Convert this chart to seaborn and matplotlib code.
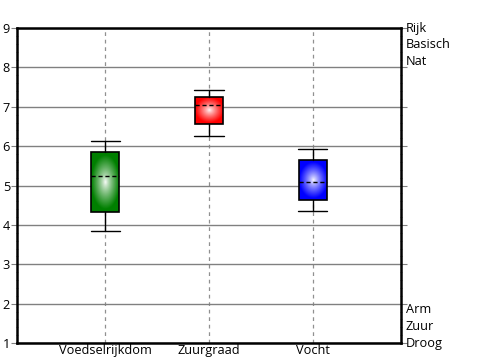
import numpy as np
import seaborn as sns
import matplotlib.pyplot as plt
from matplotlib.ticker import MultipleLocator

# box statistics
categories = ['Voedselrijkdom', 'Zuurgraad', 'Vocht']
whisker_low = [3.85, 6.26, 4.36]
q1 = [4.33, 6.56, 4.63]
mid = [5.24, 7.04, 5.08]
q3 = [5.85, 7.26, 5.64]
whisker_high = [6.13, 7.42, 5.92]
box_colors = [(0.0, 0.5, 0.0), (1.0, 0.0, 0.0), (0.0, 0.0, 1.0)]

top_labels = ['Rijk', 'Basisch', 'Nat']
bottom_labels = ['Arm', 'Zuur', 'Droog']

sns.set_style('white')
plt.rcParams['font.family'] = ['Open Sans', 'DejaVu Sans']
plt.rcParams['text.color'] = 'black'
plt.rcParams['xtick.labelcolor'] = 'black'
plt.rcParams['ytick.labelcolor'] = 'black'
fs = 9.2

fig = plt.figure(figsize=(5, 3.6), dpi=100)
ax = fig.add_axes([0.034, 0.047, 0.768, 0.875])

stats = []
for i, name in enumerate(categories):
    stats.append({'label': name, 'whislo': whisker_low[i], 'q1': q1[i],
                  'med': mid[i], 'q3': q3[i], 'whishi': whisker_high[i]})

bp = ax.bxp(stats, positions=range(len(categories)), widths=0.27,
            patch_artist=True, showfliers=False,
            boxprops=dict(edgecolor='black', linewidth=1.2),
            whiskerprops=dict(color='black', linewidth=1.0),
            capprops=dict(color='black', linewidth=1.0),
            medianprops=dict(color='black', linewidth=1.0, linestyle=(0, (3, 2))),
            capwidths=0.28)

# radial white-to-colour fill inside each box
yy, xx = np.mgrid[-1:1:120j, -1:1:60j]
r = np.clip(np.sqrt(xx ** 2 + (yy * 1.1) ** 2), 0, 1) ** 0.8
for i, patch in enumerate(bp['boxes']):
    c = np.array(box_colors[i])
    img = (1 - r)[..., None] * np.ones(3) + r[..., None] * c
    patch.set_facecolor('none')
    im = ax.imshow(img, extent=(i - 0.135, i + 0.135, q1[i], q3[i]),
                   aspect='auto', zorder=1.5, interpolation='bilinear')
    im.set_clip_path(patch)
    patch.set_zorder(2)

ax.set_xlim(-0.85, 2.85)
ax.set_ylim(1, 9)
ax.set_xticks(range(len(categories)))
ax.set_xticklabels(categories, fontsize=fs)
ax.set_yticks(range(1, 10))
ax.yaxis.set_minor_locator(MultipleLocator(0.2))

ax.grid(axis='y', color='#808080', linewidth=1.0, linestyle='-')
ax.grid(axis='x', color='#909090', linewidth=0.9, linestyle=(0, (3, 3)))
ax.set_axisbelow(True)

for s in ax.spines.values():
    s.set_linewidth(1.8)
    s.set_color('black')

ax.tick_params(axis='x', length=0, pad=1)
ax.tick_params(axis='y', which='major', left=True, right=True, length=4,
               width=0.8, color='#808080', pad=1, labelsize=fs)
ax.tick_params(axis='y', which='minor', left=True, right=True, length=2,
               width=0.6, color='#808080', direction='inout')

# right-hand scale words
for k, txt in enumerate(top_labels):
    ax.text(1.012, 1.0 - k * 0.053, txt, transform=ax.transAxes,
            ha='left', va='center', fontsize=fs)
for k, txt in enumerate(bottom_labels):
    ax.text(1.012, 0.106 - k * 0.053, txt, transform=ax.transAxes,
            ha='left', va='center', fontsize=fs)

fig.savefig('out.png', dpi=100)
